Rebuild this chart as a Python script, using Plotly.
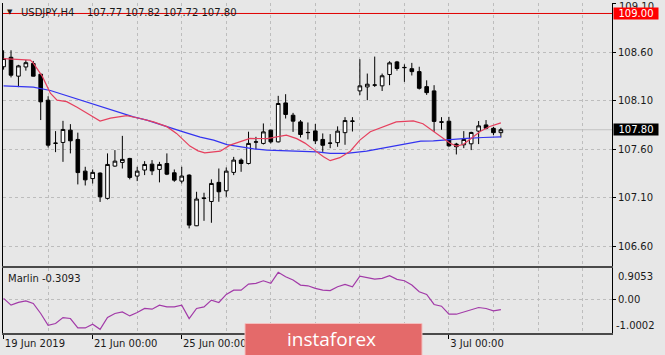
import plotly.graph_objects as go

# ---------------- data ----------------
symbol = "USDJPY,H4"
bars = list(range(68))
opens = [108.45, 108.548, 108.353, 108.448, 108.484, 108.373, 108.105, 107.659, 107.669, 107.796,
         107.70, 107.373, 107.296, 107.353, 107.092, 107.425, 107.463, 107.504, 107.322, 107.384,
         107.445, 107.391, 107.452, 107.356, 107.27, 107.332, 106.809, 107.09, 107.06, 107.257,
         107.17, 107.36, 107.487, 107.452, 107.672, 107.659, 107.796, 107.675, 108.077, 107.95,
         107.881, 107.77, 107.788, 107.70, 107.66, 107.667, 107.77, 107.886, 108.201, 108.242,
         108.26, 108.253, 108.37, 108.50, 108.44, 108.43, 108.40, 108.245, 108.201, 107.882,
         107.888, 107.652, 107.645, 107.655, 107.786, 107.85, 107.815, 107.77]
highs = [108.62, 108.62, 108.47, 108.52, 108.51, 108.38, 108.146, 107.786, 107.892, 107.858,
         107.77, 107.418, 107.39, 107.36, 107.556, 107.59, 107.737, 107.51, 107.418, 107.476,
         107.487, 107.469, 107.556, 107.39, 107.418, 107.34, 107.16, 107.15, 107.288, 107.40,
         107.411, 107.52, 107.504, 107.78, 107.727, 107.865, 107.80, 108.15, 108.167, 107.974,
         107.90, 107.875, 107.86, 107.762, 107.755, 107.835, 107.93, 107.93, 108.528, 108.38,
         108.555, 108.38, 108.507, 108.51, 108.475, 108.49, 108.45, 108.31, 108.26, 107.93,
         107.933, 107.665, 107.786, 107.78, 107.89, 107.90, 107.83, 107.82]
lows = [108.42, 108.34, 108.24, 108.41, 108.35, 107.90, 107.617, 107.569, 107.469, 107.556,
        107.236, 107.225, 107.245, 107.055, 107.08, 107.418, 107.40, 107.288, 107.27, 107.332,
        107.332, 107.257, 107.332, 107.263, 107.246, 106.782, 106.806, 106.86, 106.84, 107.057,
        107.108, 107.332, 107.366, 107.442, 107.60, 107.648, 107.659, 107.669, 107.916, 107.778,
        107.72, 107.70, 107.652, 107.572, 107.61, 107.624, 107.645, 107.782, 108.157, 108.105,
        108.242, 108.20, 108.26, 108.41, 108.294, 108.36, 108.215, 108.16, 107.778, 107.80,
        107.624, 107.545, 107.61, 107.59, 107.652, 107.805, 107.745, 107.72]
closes = [108.535, 108.363, 108.459, 108.492, 108.353, 108.088, 107.641, 107.662, 107.803, 107.686,
          107.358, 107.283, 107.36, 107.108, 107.442, 107.476, 107.494, 107.308, 107.373, 107.442,
          107.376, 107.442, 107.342, 107.28, 107.322, 106.816, 107.085, 107.095, 107.246, 107.16,
          107.373, 107.487, 107.452, 107.659, 107.675, 107.778, 107.675, 108.071, 107.958, 107.889,
          107.751, 107.772, 107.686, 107.64, 107.662, 107.786, 107.895, 107.89, 108.253, 108.27,
          108.262, 108.357, 108.49, 108.432, 108.443, 108.40, 108.228, 108.183, 107.886, 107.878,
          107.634, 107.625, 107.70, 107.772, 107.84, 107.815, 107.77, 107.80]

red_x = [0, 3.6, 4, 5.2, 6.3, 7.2, 8.5, 9.9, 11.7, 13, 14.4, 16.6, 18.4, 20.2, 22, 23.3, 25.1,
         26.2, 27.1, 28.3, 29.2, 30.5, 31.9, 33.2, 35.5, 36.8, 38.1, 39.5, 40.6, 41.7, 43.1, 44,
         45.3, 46.7, 48, 49.4, 51.6, 52.9, 54.1, 55.2, 56.5, 57.9, 59.2, 60.1, 61, 61.9, 63, 64.2,
         65.5, 67]
red_y = [108.533, 108.518, 108.487, 108.353, 108.177, 108.105, 108.09, 108.033, 107.95, 107.89,
         107.92, 107.945, 107.916, 107.881, 107.832, 107.762, 107.631, 107.582, 107.562, 107.569,
         107.579, 107.641, 107.675, 107.71, 107.708, 107.724, 107.744, 107.708, 107.662, 107.60,
         107.521, 107.481, 107.512, 107.579, 107.693, 107.78, 107.842, 107.881, 107.886, 107.891,
         107.862, 107.786, 107.71, 107.664, 107.631, 107.648, 107.71, 107.782, 107.834, 107.871]
blue_x = [0, 4, 6.3, 10.8, 13.7, 17.5, 19.3, 22, 24.2, 26.5, 28.3, 30.1, 31.9, 33.7, 35.5, 38.1,
          40.6, 42.2, 44, 46.2, 48.9, 51.6, 54.1, 56.2, 57.9, 60.1, 62.4, 64.6, 67]
blue_y = [108.252, 108.239, 108.205, 108.095, 108.02, 107.933, 107.90, 107.83, 107.778, 107.724,
          107.693, 107.646, 107.624, 107.603, 107.59, 107.582, 107.582, 107.572, 107.556, 107.556,
          107.579, 107.616, 107.652, 107.683, 107.686, 107.70, 107.71, 107.72, 107.727]

marlin = [0.018, -0.18, -0.10, -0.053, -0.13, -0.426, -0.772, -0.722, -0.545, -0.574,
          -0.852, -0.852, -0.743, -0.891, -0.545, -0.426, -0.379, -0.497, -0.397, -0.278,
          -0.299, -0.18, -0.231, -0.231, -0.18, -0.574, -0.278, -0.231, -0.033, -0.101,
          0.136, 0.263, 0.263, 0.441, 0.461, 0.538, 0.461, 0.787, 0.657, 0.559,
          0.411, 0.39, 0.313, 0.263, 0.25, 0.361, 0.43, 0.361, 0.677, 0.639,
          0.589, 0.609, 0.686, 0.58, 0.538, 0.411, 0.213, 0.136, -0.16, -0.21,
          -0.447, -0.447, -0.379, -0.329, -0.249, -0.278, -0.35, -0.3093]
marlin_max = 0.9053
marlin_min = -1.0002

tick_idx = [0, 12, 24, 60]
tick_text = ["19 Jun 2019", "21 Jun 00:00", "25 Jun 00:00", "3 Jul 00:00"]
price_ticks = [109.10, 108.60, 108.10, 107.60, 107.10, 106.60]
alert_level = 109.00

# ---------------- styling ----------------
BG = "#e7e7e7"
GRID = "#bdbdbd"
TXT = "#1a1a1a"
FONT = "DejaVu Sans"

L, R, T, B = 3, 612, 3, 333
W, H = R - L, B - T


def px(x):
    return (x - L) / W


def py(y):
    return (B - y) / H


fig = go.Figure()

fig.add_trace(go.Candlestick(
    x=bars, open=opens, high=highs, low=lows, close=closes,
    increasing=dict(line=dict(color="black", width=1), fillcolor="white"),
    decreasing=dict(line=dict(color="black", width=1), fillcolor="black"),
    whiskerwidth=0, xaxis="x", yaxis="y", showlegend=False, hoverinfo="skip"))

fig.add_trace(go.Scatter(x=blue_x, y=blue_y, mode="lines", xaxis="x", yaxis="y",
                         line=dict(color="#3333f0", width=1.2), showlegend=False, hoverinfo="skip"))
fig.add_trace(go.Scatter(x=red_x, y=red_y, mode="lines", xaxis="x", yaxis="y",
                         line=dict(color="#e6405e", width=1.2), showlegend=False, hoverinfo="skip"))
fig.add_trace(go.Scatter(x=bars, y=marlin, mode="lines", xaxis="x2", yaxis="y2",
                         line=dict(color="#a23aa8", width=1.2), showlegend=False, hoverinfo="skip"))

xr = [-0.08, 81.97]
yr = [106.394, 109.108]

# the top price label is drawn separately (slightly lowered so it stays inside the picture)
price_ticktext = ["" if v == max(price_ticks) else f"{v:.2f}" for v in price_ticks]

fig.update_layout(
    width=665, height=355,
    margin=dict(l=L, r=665 - R, t=T, b=355 - B, autoexpand=False),
    paper_bgcolor=BG, plot_bgcolor=BG, showlegend=False,
    font=dict(family=FONT, size=10, color=TXT),
    xaxis=dict(domain=[0, 1], anchor="y", range=xr, showticklabels=False, ticks="",
               tickmode="linear", tick0=0, dtick=6, automargin=False,
               showgrid=True, gridcolor=GRID, griddash="dot", gridwidth=1, zeroline=False,
               showline=True, linecolor="#4a4a4a", linewidth=1.5, mirror=False,
               rangeslider=dict(visible=False)),
    yaxis=dict(domain=[py(266), 1], anchor="x", side="right", range=yr, automargin=False,
               tickmode="array", tickvals=price_ticks, ticktext=price_ticktext,
               ticks="outside", ticklen=3, tickcolor="black", ticklabeloverflow="allow",
               showgrid=True, gridcolor=GRID, griddash="dot", zeroline=False,
               showline=True, linecolor="black", linewidth=1, mirror=True),
    xaxis2=dict(domain=[0, 1], anchor="y2", range=xr, matches="x", automargin=False,
                tickmode="array", tickvals=tick_idx, ticktext=tick_text,
                ticklabelposition="outside right", ticklabeloverflow="allow",
                ticks="outside", ticklen=4, tickcolor="black",
                showgrid=True, gridcolor=GRID, griddash="dot", zeroline=False,
                minor=dict(tickmode="linear", tick0=0, dtick=6, showgrid=True,
                           gridcolor=GRID, griddash="dot", ticks=""),
                showline=True, linecolor="#4a4a4a", linewidth=1.5, mirror=True),
    yaxis2=dict(domain=[0, py(268.3)], anchor="x2", side="right", automargin=False,
                range=[marlin_min, marlin_max],
                tickmode="array", tickvals=[0], ticktext=[""],
                ticks="outside", ticklen=3, tickcolor="black",
                showgrid=True, gridcolor=GRID, griddash="dot", zeroline=False,
                showline=True, linecolor="black", linewidth=1, mirror=True),
)

shapes = [
    # current price line
    dict(type="line", xref="x", yref="y", x0=xr[0], x1=xr[1], y0=closes[-1], y1=closes[-1],
         line=dict(color="#c2c2c2", width=1), layer="below"),
    # alert level line
    dict(type="line", xref="x", yref="y", x0=xr[0], x1=xr[1], y0=alert_level, y1=alert_level,
         line=dict(color="#e00000", width=1), layer="above"),
    # watermark box
    dict(type="rect", xref="paper", yref="paper", x0=px(245), x1=px(422), y0=py(356), y1=py(323.5),
         fillcolor="#e46a6a", line=dict(color="#f4c0c0", width=1), layer="above"),
]
fig.update_layout(shapes=shapes)

ann = []
# top price label
ann.append(dict(text=f"{max(price_ticks):.2f}", xref="paper", yref="paper", x=px(617), y=py(6.5),
                xanchor="left", yanchor="middle", showarrow=False,
                font=dict(size=10, color=TXT, family=FONT)))
# header
ann.append(dict(text="▼", xref="paper", yref="paper", x=px(10), y=py(12), xanchor="center",
                yanchor="middle", showarrow=False, font=dict(size=7, color=TXT, family=FONT)))
ann.append(dict(text=symbol, xref="paper", yref="paper", x=px(19), y=py(12.5), xanchor="left",
                yanchor="middle", showarrow=False, font=dict(size=10, color=TXT, family=FONT)))
ann.append(dict(text=f"{opens[-1]:.2f} {highs[-1]:.2f} {lows[-1]:.2f} {closes[-1]:.2f}",
                xref="paper", yref="paper", x=px(85), y=py(12.5), xanchor="left",
                yanchor="middle", showarrow=False, font=dict(size=10, color=TXT, family=FONT)))
# price boxes
ann.append(dict(text=f"{alert_level:.2f}", xref="paper", yref="y", x=px(613), y=alert_level,
                xanchor="left", yanchor="middle", showarrow=False, bgcolor="#ff0000",
                width=44, height=11, borderpad=0, align="center",
                font=dict(size=10, color="white", family=FONT)))
ann.append(dict(text=f"{closes[-1]:.2f}", xref="paper", yref="y", x=px(613), y=closes[-1],
                xanchor="left", yanchor="middle", showarrow=False, bgcolor="#000000",
                width=44, height=11, borderpad=0, align="center",
                font=dict(size=10, color="white", family=FONT)))
# indicator labels
ann.append(dict(text=f"Marlin {marlin[-1]:.4f}", xref="paper", yref="paper", x=px(6), y=py(278.7),
                xanchor="left", yanchor="middle", showarrow=False,
                font=dict(size=10, color=TXT, family=FONT)))
ann.append(dict(text=f"{marlin_max:.4f}", xref="paper", yref="paper", x=px(616), y=py(276.7),
                xanchor="left", yanchor="middle", showarrow=False,
                font=dict(size=10, color=TXT, family=FONT)))
ann.append(dict(text="0.00", xref="paper", yref="y2", x=px(616), y=0,
                xanchor="left", yanchor="middle", showarrow=False,
                font=dict(size=10, color=TXT, family=FONT)))
ann.append(dict(text=f"{marlin_min:.4f}", xref="paper", yref="paper", x=px(614), y=py(325),
                xanchor="left", yanchor="middle", showarrow=False,
                font=dict(size=10, color=TXT, family=FONT)))
# watermark text
ann.append(dict(text="instaforex", xref="paper", yref="paper", x=px(331), y=py(339),
                xanchor="center", yanchor="middle", showarrow=False,
                font=dict(size=19, color="white", family="Open Sans")))
fig.update_layout(annotations=ann)

fig.write_html("out.html")
